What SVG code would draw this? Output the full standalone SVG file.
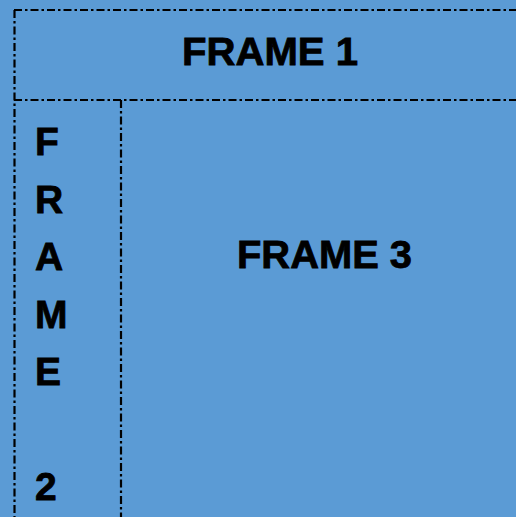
<svg xmlns="http://www.w3.org/2000/svg" width="516" height="519" viewBox="0 0 516 519">
<style>
.ln{stroke:#000;stroke-width:2.2;fill:none;stroke-dasharray:8 3 2.5 3}
.t{font-family:"Liberation Sans",Arial,sans-serif;font-weight:bold;font-size:39px;fill:#000;stroke:#000;stroke-width:0.8}
</style>
<rect x="0" y="0" width="516" height="519" fill="#fff"/>
<rect x="0" y="0" width="516" height="517" fill="#5B9BD5"/>
<g id="connectors">
<line class="ln" x1="14" y1="10" x2="516" y2="10"/>
<line class="ln" x1="14.5" y1="10" x2="14.5" y2="517"/>
<line class="ln" x1="14" y1="100" x2="516" y2="100"/>
<line class="ln" x1="121" y1="100" x2="121" y2="517"/>
</g>
<g id="frame1">
<text class="t" x="182" y="65" textLength="176" lengthAdjust="spacingAndGlyphs">FRAME 1</text>
</g>
<g id="frame2">
<text class="t" x="35" y="155">F</text>
<text class="t" x="35" y="212.5">R</text>
<text class="t" x="35" y="270">A</text>
<text class="t" x="35" y="327.5">M</text>
<text class="t" x="35" y="385">E</text>
<text class="t" x="35" y="500">2</text>
</g>
<g id="frame3">
<text class="t" x="237" y="268" textLength="175" lengthAdjust="spacingAndGlyphs">FRAME 3</text>
</g>
</svg>
